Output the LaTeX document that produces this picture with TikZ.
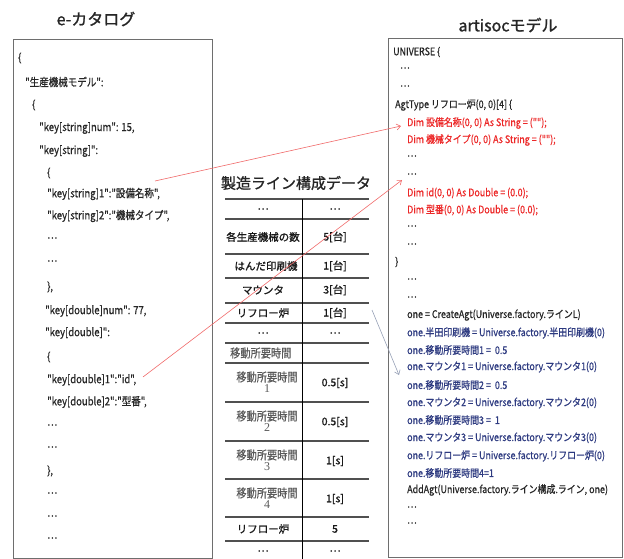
\documentclass[tikz,border=0pt]{standalone}
\usepackage{fontspec}
\setmainfont{Noto Sans CJK JP}
\newfontfamily\cnd[FakeStretch=0.85,FakeBold=0.7]{Noto Sans CJK JP}
\newfontfamily\bld[FakeBold=1.2]{Noto Sans CJK JP}
\newfontfamily\srf{Liberation Serif}
\usetikzlibrary{arrows.meta}
\definecolor{redc}{RGB}{236,40,40}
\definecolor{bluec}{RGB}{45,58,128}
\definecolor{redl}{RGB}{240,105,105}
\definecolor{grayl}{RGB}{150,160,182}
\definecolor{boxc}{RGB}{110,110,110}
\definecolor{tlc}{RGB}{80,80,80}
\begin{document}
\begin{tikzpicture}[x=1pt,y=-1pt,
  ttl/.style={inner sep=0, font=\bld\fontsize{16}{18}\selectfont, text=black!85},
  boxst/.style={draw=boxc, line width=0.9pt, anchor=north west, inner sep=0},
  lt/.style={anchor=west, inner sep=0, font=\cnd\fontsize{11.2}{13}\selectfont, text=black!85},
  rt/.style={anchor=west, inner sep=0, font=\cnd\fontsize{10.5}{12}\selectfont, text=black!85},
  rr/.style={rt, text=redc},
  rb/.style={rt, text=bluec},
  tline/.style={draw=tlc, line width=1.6pt},
  tc/.style={inner sep=0, font=\bld\fontsize{10.5}{12}\selectfont, text=black!90},
  tg/.style={inner sep=0, font=\cnd\fontsize{12}{13}\selectfont, text=black!65, align=center},
  arr/.style={-{Straight Barb[length=4pt,width=6pt]}, line width=0.6pt}
]
\useasboundingbox (0,0) rectangle (624,559);

% titles
\node[ttl] (t1) at (96,19) {e-カタログ};
\node[ttl] (t2) at (508,25) {artisocモデル};

% boxes
\node[boxst, minimum width=199pt, minimum height=519pt] (lbox) at (13,39) {};
\node[boxst, minimum width=234pt, minimum height=519pt] (rbox) at (388,38) {};

% left box text
\node[lt] (l1) at (18,58) {\{};
\node[lt] (l2) at (25,82) {"生産機械モデル":};
\node[lt] (l3) at (32,105) {\{};
\node[lt] (l4) at (39,128) {"key[string]num": 15,};
\node[lt] (l5) at (39,151) {"key[string]":};
\node[lt] (l6) at (47,173) {\{};
\node[lt] (l7) at (47,194) {"key[string]1":"設備名称",};
\node[lt] (l8) at (47,216) {"key[string]2":"機械タイプ",};
\node[lt] (l9) at (47,238) {…};
\node[lt] (l10) at (47,261) {…};
\node[lt] (l11) at (47,287) {\},};
\node[lt] (l12) at (45,311) {"key[double]num": 77,};
\node[lt] (l13) at (45,333) {"key[double]":};
\node[lt] (l14) at (47,357) {\{};
\node[lt] (l15) at (47,380) {"key[double]1":"id",};
\node[lt] (l16) at (47,402) {"key[double]2":"型番",};
\node[lt] (l17) at (47,425) {…};
\node[lt] (l18) at (47,447) {…};
\node[lt] (l19) at (47,471) {\},};
\node[lt] (l20) at (47,493) {…};
\node[lt] (l21) at (47,516) {…};
\node[lt] (l22) at (47,538) {…};

% table
\node[inner sep=0, font=\bld\fontsize{15}{17}\selectfont, text=black!85] (tt) at (296,183) {製造ライン構成データ};
\foreach \yy in {199,219,254,278,303,323,343,363,402,441,479,517,541}
  \draw[tline] (225,\yy) -- (369,\yy);
\draw[black, line width=0.9pt] (302,199) -- (302,559);

\node[tc] (c1a) at (263,209) {…};
\node[tc] (c1b) at (335,209) {…};
\node[tc] (c2a) at (263,237) {各生産機械の数};
\node[tc] (c2b) at (335,237) {5[台]};
\node[tc] (c3a) at (266,266) {はんだ印刷機};
\node[tc] (c3b) at (335,266) {1[台]};
\node[tc] (c4a) at (263,290) {マウンタ};
\node[tc] (c4b) at (335,290) {3[台]};
\node[tc] (c5a) at (263,313) {リフロー炉};
\node[tc] (c5b) at (335,313) {1[台]};
\node[tc] (c6a) at (263,333) {…};
\node[tc] (c6b) at (335,333) {…};
\node[tg, anchor=west] (c7a) at (230,353) {移動所要時間};
\node[tg] (c8a) at (267,382) {移動所要時間\\[-2pt]{\srf 1}};
\node[tc] (c8b) at (335,383) {0.5[s]};
\node[tg] (c9a) at (267,421) {移動所要時間\\[-2pt]{\srf 2}};
\node[tc] (c9b) at (335,422) {0.5[s]};
\node[tg] (c10a) at (267,460) {移動所要時間\\[-2pt]{\srf 3}};
\node[tc] (c10b) at (335,461) {1[s]};
\node[tg] (c11a) at (267,498) {移動所要時間\\[-2pt]{\srf 4}};
\node[tc] (c11b) at (335,499) {1[s]};
\node[tc] (c12a) at (263,529) {リフロー炉};
\node[tc] (c12b) at (335,529) {5};
\node[tc] (c13a) at (263,551) {…};
\node[tc] (c13b) at (335,551) {…};

% right box text
\node[rt] (r1) at (393,52) {UNIVERSE \{};
\node[rt] (r2) at (400,68) {…};
\node[rt] (r3) at (400,86) {…};
\node[rt] (r4) at (395,105) {AgtType リフロー炉(0, 0)[4] \{};
\node[rr] (r5) at (407,123) {Dim 設備名称(0, 0) As String = ("");};
\node[rr] (r6) at (407,140) {Dim 機械タイプ(0, 0) As String = ("");};
\node[rt] (r7) at (407,156) {…};
\node[rt] (r8) at (407,174) {…};
\node[rr] (r9) at (407,193) {Dim id(0, 0) As Double = (0.0);};
\node[rr] (r10) at (407,210) {Dim 型番(0, 0) As Double = (0.0);};
\node[rt] (r11) at (407,226) {…};
\node[rt] (r12) at (407,244) {…};
\node[rt] (r13) at (395,262) {\}};
\node[rt] (r14) at (407,279) {…};
\node[rt] (r15) at (407,297) {…};
\node[rt] (r16) at (407,315) {one = CreateAgt(Universe.factory.ラインL)};
\node[rb] (r17) at (407,333) {one.半田印刷機 = Universe.factory.半田印刷機(0)};
\node[rb] (r18) at (407,350) {one.移動所要時間1 = \ 0.5};
\node[rb] (r19) at (407,367) {one.マウンタ1 = Universe.factory.マウンタ1(0)};
\node[rb] (r20) at (407,385) {one.移動所要時間2 = \ 0.5};
\node[rb] (r21) at (407,403) {one.マウンタ2 = Universe.factory.マウンタ2(0)};
\node[rb] (r22) at (407,420) {one.移動所要時間3 = \ 1};
\node[rb] (r23) at (407,438) {one.マウンタ3 = Universe.factory.マウンタ3(0)};
\node[rb] (r24) at (407,456) {one.リフロー炉 = Universe.factory.リフロー炉(0)};
\node[rb] (r25) at (407,473) {one.移動所要時間4=1};
\node[rt] (r26) at (407,490) {AddAgt(Universe.factory.ライン構成.ライン, one)};
\node[rt] (r27) at (407,507) {…};
\node[rt] (r28) at (407,523) {…};

% connectors
\coordinate (a1s) at (155,181);
\coordinate (a1e) at (401,126);
\coordinate (a2s) at (143,377);
\coordinate (a2e) at (402,180);
\coordinate (a3s) at (372,310);
\coordinate (a3e) at (399,375);
\draw[arr, redl] (a1s) -- (a1e);
\draw[arr, redl] (a2s) -- (a2e);
\draw[arr, grayl] (a3s) -- (a3e);
\end{tikzpicture}
\end{document}
